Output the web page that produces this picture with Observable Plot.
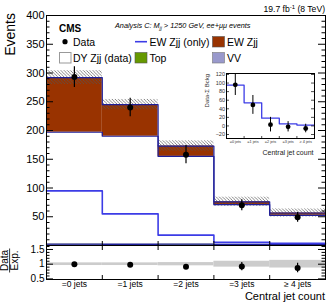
<!DOCTYPE html>
<html><head><meta charset="utf-8">
<script src="https://cdn.jsdelivr.net/npm/d3@7"></script>
<script src="https://cdn.jsdelivr.net/npm/@observablehq/plot@0.6"></script>
<style>
body{margin:0;background:#fff;}
#c{position:relative;width:332px;height:305px;overflow:hidden;font-family:"Liberation Sans",Arial,sans-serif;background:#fff;}
</style></head><body><div id="c"></div>
<script>
// ---- data ----
const bins = ["=0 jets", "=1 jets", "=2 jets", "=3 jets", "\u2265 4 jets"];
const vv = [1.5, 1.2, 1.0, 0.8, 0.6];
const topq = [1.0, 1.0, 1.4, 0.9, 0.7];
const dyZjj = [194.5, 187.8, 152.6, 69.3, 51.2];
const ewZjj = [95, 55, 18, 5, 4];
const ewOnly = [95, 55, 18, 5.5, 4];
const dataVal = [293, 240, 158, 70, 49];
const dataErr = [18, 16, 16, 9.5, 8.5];
const mcErr = [12, 9, 9, 8, 7];
const ratioVal = [1.0, 0.98, 0.91, 0.92, 0.87];
const ratioErr = [0.06, 0.065, 0.07, 0.14, 0.16];
const ratioBand = [0.045, 0.045, 0.055, 0.1, 0.13];
const insetVal = [96, 49, 3, -2, -6];
const insetErr = [25, 22, 17, 12, 10];
const insetLine = [95, 54, 18, 5, 2];
const mainTicks = [50, 100, 150, 200, 250, 300, 350, 400];
const ratioTicks = [0.5, 1, 1.5];
const insetTicks = [-20, 0, 20, 40, 60, 80, 100, 120];

// ---- derived rows ----
const rows = bins.map((b, i) => {
  const c0 = vv[i], c1 = c0 + topq[i], c2 = c1 + dyZjj[i], c3 = c2 + ewZjj[i];
  return {i, x1: i, x2: i + 1, xc: i + 0.5, c0, c1, c2, c3,
    data: dataVal[i], err: dataErr[i], mcErr: mcErr[i],
    r: ratioVal[i], rErr: ratioErr[i], band: ratioBand[i],
    iv: insetVal[i], ie: insetErr[i]};
});
const steps = vals => vals.map((v, i) => ({x: i, y: v})).concat([{x: vals.length, y: vals[vals.length - 1]}]);
const navy = "#1f1f99", blue = "#3c3ce6";
const font = "Liberation Sans, Arial, sans-serif";
const container = document.getElementById("c");
function place(el, left, top) {
  el.style.position = "absolute"; el.style.left = left + "px"; el.style.top = top + "px";
  container.appendChild(el);
}

// ---- main panel ----
const mW = 332, mL = 46, mR = 7, mT = 15, mB = 1, mH = 246;
const fw = mW - mL - mR, fh = mH - mT - mB;
const minorMain = d3.range(10, 400, 10).filter(v => v % 50 !== 0);
const main = Plot.plot({
  width: mW, height: mH, marginLeft: mL, marginRight: mR, marginTop: mT, marginBottom: mB,
  style: {fontFamily: font, fontSize: "11px", background: "transparent", overflow: "visible"},
  x: {domain: [0, 5], axis: null},
  y: {domain: [0, 400], ticks: mainTicks, tickSize: 0, tickPadding: 2, label: null},
  marks: [
    Plot.rectY(rows, {x1: "x1", x2: "x2", y1: 0, y2: "c0", fill: "#9999cc"}),
    Plot.rectY(rows, {x1: "x1", x2: "x2", y1: "c0", y2: "c1", fill: "#669900"}),
    Plot.rectY(rows, {x1: "x1", x2: "x2", y1: "c1", y2: "c2", fill: "white"}),
    Plot.rectY(rows, {x1: "x1", x2: "x2", y1: "c2", y2: "c3", fill: "#993300"}),
    Plot.rectY(rows, {x1: "x1", x2: "x2", y1: d => d.c3 - d.mcErr, y2: d => d.c3 + d.mcErr, fill: "url(#hatch)"}),
    Plot.lineY(steps(rows.map(d => d.c1)), {x: "x", y: "y", curve: "step-after", stroke: navy, strokeWidth: 1.3}),
    Plot.lineY(steps(rows.map(d => d.c2)), {x: "x", y: "y", curve: "step-after", stroke: navy, strokeWidth: 1.2}),
    Plot.lineY(steps(rows.map(d => d.c3)), {x: "x", y: "y", curve: "step-after", stroke: navy, strokeWidth: 1.2}),
    Plot.lineY(steps(ewOnly), {x: "x", y: "y", curve: "step-after", stroke: blue, strokeWidth: 1.6}),
    Plot.ruleX(rows, {x: "xc", y1: d => d.data - d.err, y2: d => d.data + d.err, stroke: "black", strokeWidth: 1.2}),
    Plot.dot(rows, {x: "xc", y: "data", r: 3, fill: "black", stroke: null}),
    Plot.tickY(mainTicks, {y: d => d, insetRight: fw - 7, stroke: "black"}),
    Plot.tickY(minorMain, {y: d => d, insetRight: fw - 3.5, stroke: "black"}),
    Plot.tickY(mainTicks, {y: d => d, insetLeft: fw - 7, stroke: "black"}),
    Plot.tickY(minorMain, {y: d => d, insetLeft: fw - 3.5, stroke: "black"}),
    Plot.tickX([1, 2, 3, 4], {x: d => d, insetTop: fh - 4, stroke: "black"}),
    Plot.frame({stroke: "black", strokeWidth: 1})
  ]
});
d3.select(main).insert("defs", ":first-child").html(
  '<pattern id="hatch" patternUnits="userSpaceOnUse" width="3.2" height="3.2">' +
  '<path d="M-0.8,-0.8 L4,4 M-0.8,2.4 L0.8,4 M2.4,-0.8 L4,0.8" stroke="#555" stroke-width="0.7"/></pattern>');
place(main, 0, 0);

// ---- ratio panel ----
const rH = 61, rT = 1, rB = 26;
const rfh = rH - rT - rB;
const minorRatio = d3.range(0.6, 1.65, 0.1).map(v => +v.toFixed(2)).filter(v => Math.abs(v - 1) > 1e-6 && Math.abs(v - 1.5) > 1e-6);
const ratio = Plot.plot({
  width: mW, height: rH, marginLeft: mL, marginRight: mR, marginTop: rT, marginBottom: rB,
  style: {fontFamily: font, fontSize: "10px", background: "transparent", overflow: "visible"},
  x: {domain: [0, 5], axis: null},
  y: {domain: [0.48, 1.635], axis: null},
  marks: [
    Plot.rectY(rows, {x1: "x1", x2: "x2", y1: d => 1 - d.band, y2: d => 1 + d.band, fill: "#cccccc"}),
    Plot.ruleX(rows, {x: "xc", y1: d => d.r - d.rErr, y2: d => d.r + d.rErr, stroke: "black", strokeWidth: 1.2}),
    Plot.dot(rows, {x: "xc", y: "r", r: 3, fill: "black", stroke: null}),
    Plot.tickY(ratioTicks, {y: d => d, insetRight: fw - 7, stroke: "black"}),
    Plot.tickY(minorRatio, {y: d => d, insetRight: fw - 3.5, stroke: "black"}),
    Plot.tickY(ratioTicks, {y: d => d, insetLeft: fw - 7, stroke: "black"}),
    Plot.tickY(minorRatio, {y: d => d, insetLeft: fw - 3.5, stroke: "black"}),
    Plot.tickX([1, 2, 3, 4], {x: d => d, insetTop: rfh - 4, stroke: "black"}),
    Plot.tickX([1, 2, 3, 4], {x: d => d, insetBottom: rfh - 5, stroke: "black"}),
    Plot.axisY(ratioTicks, {tickSize: 0, tickPadding: 2, tickFormat: d => String(d), label: null, fontSize: 10}),
    Plot.axisX(rows.map(d => d.xc), {tickSize: 0, tickPadding: 1, tickFormat: v => bins[Math.floor(v)], label: null, fontSize: 8.5}),
    Plot.frame({stroke: "black", strokeWidth: 1})
  ]
});
place(ratio, 0, 244);

// ---- inset ----
const iW = 120, iH = 100, iL = 26, iR = 6, iT = 13, iB = 22;
const ifw = iW - iL - iR, ifh = iH - iT - iB;
const inset = Plot.plot({
  width: iW, height: iH, marginLeft: iL, marginRight: iR, marginTop: iT, marginBottom: iB,
  style: {fontFamily: font, fontSize: "5.5px", background: "transparent", overflow: "visible"},
  x: {domain: [0, 5], axis: null},
  y: {domain: [-29.3, 122.3], axis: null},
  marks: [
    Plot.lineY(steps(insetLine), {x: "x", y: "y", curve: "step-after", stroke: blue, strokeWidth: 1.3}),
    Plot.ruleX(rows, {x: "xc", y1: d => d.iv - d.ie, y2: d => d.iv + d.ie, stroke: "black", strokeWidth: 1}),
    Plot.dot(rows, {x: "xc", y: "iv", r: 2.4, fill: "black", stroke: null}),
    Plot.tickY(insetTicks, {y: d => d, insetRight: ifw - 3, stroke: "black", strokeWidth: 0.7}),
    Plot.tickY(insetTicks, {y: d => d, insetLeft: ifw - 3, stroke: "black", strokeWidth: 0.7}),
    Plot.tickX([1, 2, 3, 4], {x: d => d, insetTop: ifh - 2, stroke: "black", strokeWidth: 0.7}),
    Plot.axisY(insetTicks, {tickSize: 0, tickPadding: 1.5, label: null, fontSize: 5.5, fill: "#333"}),
    Plot.axisX(rows.map(d => d.xc), {tickSize: 0, tickPadding: 1.5, tickFormat: v => bins[Math.floor(v)], label: null, fontSize: 3.8, fill: "#333"}),
    Plot.frame({stroke: "black", strokeWidth: 1})
  ]
});
place(inset, 200, 60);

// ---- overlay texts & legend ----
const ov = d3.create("svg").attr("width", 332).attr("height", 305)
  .style("pointer-events", "none").style("font-family", font);
const t = (x, y, s, size, opts = {}) => {
  const e = ov.append("text").attr("x", x).attr("y", y).attr("font-size", size).text(s);
  for (const k in opts) e.attr(k, opts[k]);
  return e;
};
// lumi
const lumi = ov.append("text").attr("x", 325).attr("y", 12).attr("font-size", 8.6).attr("text-anchor", "end");
lumi.append("tspan").text("19.7 fb");
lumi.append("tspan").attr("font-size", 6).attr("dy", -3.5).text("-1");
lumi.append("tspan").attr("dy", 3.5).text(" (8 TeV)");
// CMS
t(59, 32, "CMS", 10, {"font-weight": "bold"});
// analysis
const an = ov.append("text").attr("x", 115).attr("y", 27.5).attr("font-size", 7.3).attr("font-style", "italic");
an.append("tspan").text("Analysis C: M");
an.append("tspan").attr("font-size", 5).attr("dy", 2.2).text("jj");
an.append("tspan").attr("dy", -2.2).text(" > 1250 GeV, ee+\u03bc\u03bc events");
// legend row 1
ov.append("circle").attr("cx", 65).attr("cy", 41.7).attr("r", 2.6).attr("fill", "black");
t(73, 45.5, "Data", 10.5);
ov.append("line").attr("x1", 135).attr("x2", 147).attr("y1", 41.7).attr("y2", 41.7).attr("stroke", blue).attr("stroke-width", 1.6);
t(149.5, 45.5, "EW Zjj (only)", 10.5);
ov.append("rect").attr("x", 212.5).attr("y", 36.5).attr("width", 12).attr("height", 10.5).attr("fill", "#993300").attr("stroke", "#555").attr("stroke-width", 0.6);
t(227, 45.5, "EW Zjj", 10.5);
// legend row 2
ov.append("rect").attr("x", 59.5).attr("y", 52.5).attr("width", 11.5).attr("height", 10.5).attr("fill", "white").attr("stroke", "#999").attr("stroke-width", 1);
t(73, 61.5, "DY Zjj (data)", 10.5);
ov.append("rect").attr("x", 135).attr("y", 52.5).attr("width", 12).attr("height", 10.5).attr("fill", "#669900").attr("stroke", "#555").attr("stroke-width", 0.6);
t(149.5, 61.5, "Top", 10.5);
ov.append("rect").attr("x", 212.5).attr("y", 52.5).attr("width", 12).attr("height", 10.5).attr("fill", "#9999cc").attr("stroke", "#777").attr("stroke-width", 0.6);
t(227, 61.5, "VV", 10.5);
// axis titles
t(0, 0, "Events", 14, {"text-anchor": "end", transform: "translate(15,13) rotate(-90)"});
t(0, 0, "Data", 10, {"text-anchor": "middle", transform: "translate(8.3,260.5) rotate(-90)"});
ov.append("line").attr("x1", 9.6).attr("x2", 9.6).attr("y1", 248.5).attr("y2", 272.5).attr("stroke", "black").attr("stroke-width", 0.8);
t(0, 0, "Exp.", 10, {"text-anchor": "middle", transform: "translate(17.6,260.5) rotate(-90)"});
t(325, 299.5, "Central jet count", 11, {"text-anchor": "end"});
t(313.5, 154.5, "Central jet count", 7, {"text-anchor": "end", fill: "#222"});
t(0, 0, "Data-\u03a3 Bckg", 6, {"text-anchor": "end", fill: "#333", transform: "translate(209,74) rotate(-90)"});
place(ov.node(), 0, 0);
</script></body></html>
